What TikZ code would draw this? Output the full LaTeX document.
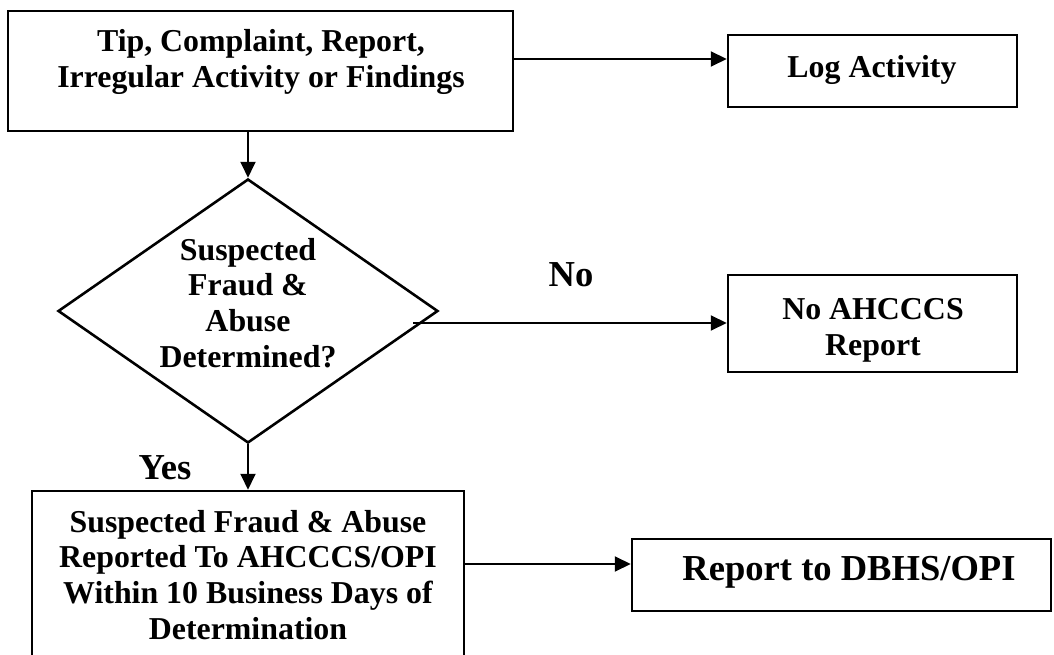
\documentclass[tikz,border=0pt]{standalone}
\usepackage{fontspec}
\setmainfont{Liberation Serif}
\usetikzlibrary{arrows.meta,fit,shapes.geometric}

\begin{document}
\begin{tikzpicture}[x=0.015cm,y=-0.015cm,
    box/.style={draw,line width=1.1pt,inner sep=0pt},
    flow/.style={line width=0.9pt,-{Triangle[length=6.8pt,width=6.4pt]}},
    boxtext/.style={align=center,font=\bfseries\fontsize{13.6pt}{15.3pt}\selectfont},
    bigtext/.style={font=\bfseries\fontsize{15.6pt}{18pt}\selectfont}]

    \useasboundingbox (0,0) rectangle (1054,655);

    \node[box,fit={(8,11) (513,131)}] (tip) {};
    \node[boxtext] (tiptext) at (261,62) {Tip, Complaint, Report,\\Irregular Activity or Findings};

    \node[box,fit={(728,35) (1017,107)}] (log) {};
    \node[boxtext] (logtext) at (872,70) {Log Activity};

    \node[box,diamond,minimum width=5.7cm,minimum height=3.96cm] (decide) at (248,311) {};
    \node[boxtext] (decidetext) at (248,303) {Suspected\\Fraud \&\\Abuse\\Determined?};

    \node[box,fit={(728,275) (1017,372)}] (noreport) {};
    \node[boxtext] (noreporttext) at (873,330) {No AHCCCS\\Report};

    \node[box,fit={(32,491) (464,662)}] (suspect) {};
    \node[boxtext] (suspecttext) at (248,575) {Suspected Fraud \& Abuse\\Reported To AHCCCS/OPI\\Within 10 Business Days of\\Determination};

    \node[box,fit={(632,539) (1051,611)}] (dbhs) {};
    \node[bigtext] (dbhstext) at (849,572) {Report to DBHS/OPI};

    \node[bigtext,anchor=base] (no) at (571,287) {No};
    \node[bigtext,anchor=base] (yes) at (165,480) {Yes};

    \coordinate (lvltop) at (0,59);
    \coordinate (noout) at (413,323);
    \coordinate (lvlbot) at (0,564);

    \draw[flow] (tip.east |- lvltop) -- (log.west |- lvltop);

    \draw[flow] (decide.north |- tip.south) -- (decide.north);

    \draw[flow] (noout) -- (noout -| noreport.west);

    \draw[flow] (decide.south) -- (decide.south |- suspect.north);

    \draw[flow] (suspect.east |- lvlbot) -- (dbhs.west |- lvlbot);

\end{tikzpicture}
\end{document}
